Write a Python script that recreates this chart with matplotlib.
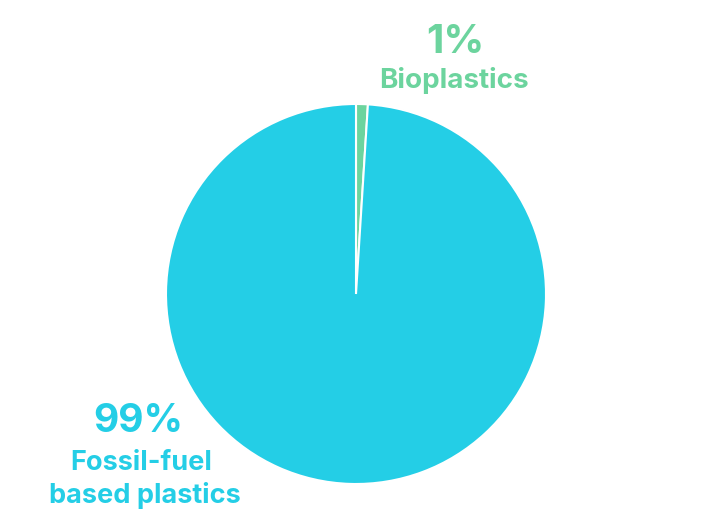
import matplotlib
matplotlib.use('Agg')
import matplotlib.pyplot as plt

# data
labels = ["Bioplastics", "Fossil-fuel\nbased plastics"]
shares = [1, 99]
pct_labels = ["1%", "99%"]
colors = ["#6CD49E", "#24CEE6"]

W, H = 715, 531
fig = plt.figure(figsize=(W / 100, H / 100), dpi=100, facecolor='white')
plt.rcParams['font.family'] = ['Inter', 'DejaVu Sans']

# pie area in pixels: left 166, right 546, top 104, bottom 484
ax = fig.add_axes([166 / W, (H - 484) / H, 380 / W, 380 / H])
ax.pie(shares, colors=colors, startangle=90, counterclock=False,
       wedgeprops=dict(edgecolor='white', linewidth=1.5))
ax.set_xlim(-1, 1)
ax.set_ylim(-1, 1)
ax.axis('off')


def px(x, y):
    return x / W, 1 - y / H


def label(x, y, s, color, size):
    fig.text(*px(x, y), s, color=color, fontsize=size, fontweight='bold',
             ha='center', va='baseline')


# Bioplastics labels
label(455, 53, pct_labels[0], colors[0], 29)
label(454, 88, labels[0], colors[0], 20)

# Fossil labels
label(138, 432, pct_labels[1], colors[1], 28)
line1, line2 = labels[1].split("\n")
label(141, 470, line1, colors[1], 19.5)
label(145, 503, line2, colors[1], 19.5)

fig.savefig('out.png', dpi=100, facecolor='white')
